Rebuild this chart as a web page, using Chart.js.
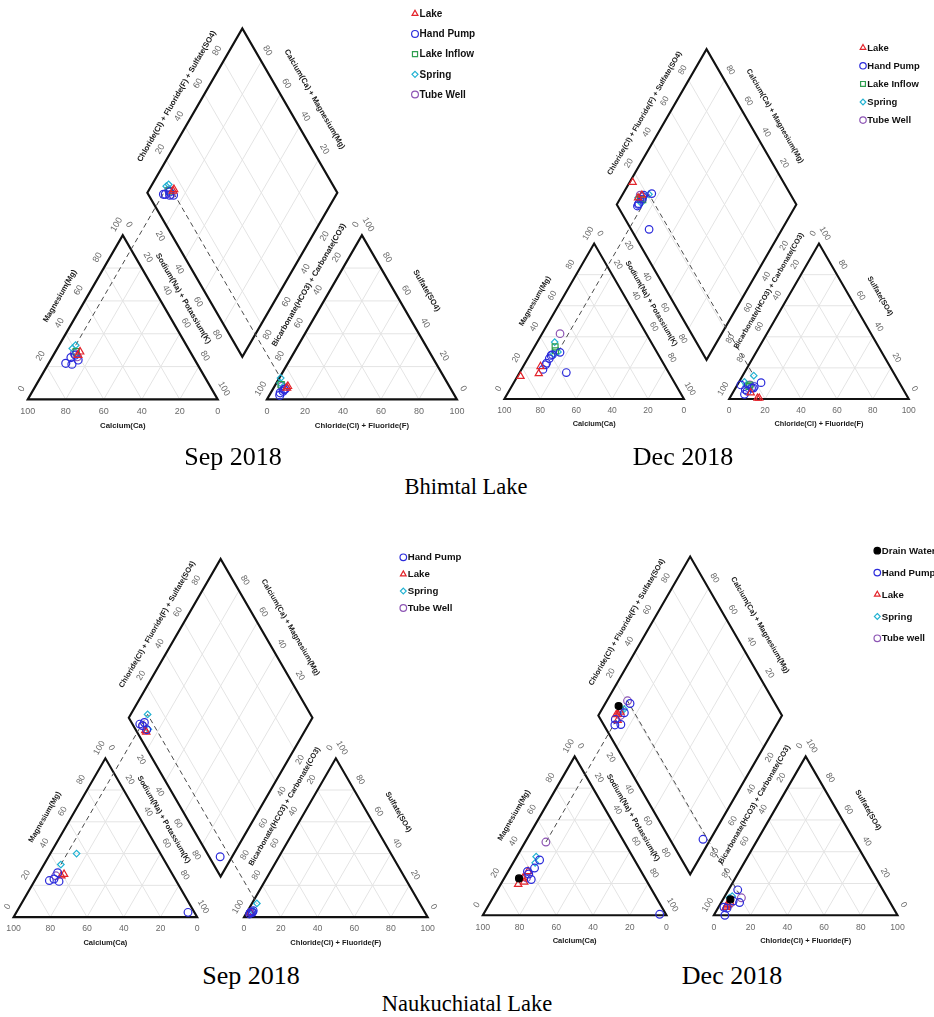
<!DOCTYPE html>
<html><head><meta charset="utf-8">
<script src="https://cdn.jsdelivr.net/npm/chart.js@4.4.1/dist/chart.umd.min.js"></script>
<style>
html,body{margin:0;padding:0;background:#fff;}
body{width:934px;height:1017px;position:relative;overflow:hidden;}
canvas{position:absolute;}
.cap{position:absolute;font-family:"Liberation Serif","Times New Roman",serif;font-size:26px;color:#000;white-space:nowrap;transform:translateX(-50%);line-height:1;}
.cap.lk{font-size:22.5px;}
</style></head><body>
<canvas id="c1"></canvas>
<canvas id="c2"></canvas>
<canvas id="c3"></canvas>
<canvas id="c4"></canvas>
<div class="cap" style="left:233px;top:444px">Sep 2018</div>
<div class="cap" style="left:683px;top:444px">Dec 2018</div>
<div class="cap lk" style="left:466px;top:476px">Bhimtal Lake</div>
<div class="cap" style="left:251px;top:963px">Sep 2018</div>
<div class="cap" style="left:732px;top:963px">Dec 2018</div>
<div class="cap lk" style="left:467px;top:993px">Naukuchiatal Lake</div>
<script>
// ===== DATA: each sample = [Ca, Mg, Na+K, HCO3+CO3, SO4, Cl+F] (% meq) =====
// Bhimtal Lake, Sep 2018
const bhSepLake       = [[58,29,13,85,8,7],[60,27,13,86,7,7]];
const bhSepHandPump   = [[69,22,9,92,2.5,5.5],[66,21.5,12.5,89,5,6],[61.5,24,14.5,87,6.5,6.5],[64.5,25.5,10,91,4,5],[61.5,27,11.5,88,6,6]];
const bhSepLakeInflow = [[60,29,11,88,9,3]];
const bhSepSpring     = [[58.3,33,8.7,86.3,13,0.7],[61,31,8,88,10,2]];
const bhSepTubeWell   = [[61.5,28,10.5,88,8,4],[61,26,13,88,6,6]];
// Bhimtal Lake, Dec 2018
const bhDecLake       = [[83.7,14.6,1.7,84,0.5,15.5],[72.7,16.3,11,83,0.5,16.5],[69.4,20.9,9.7,86,4,10]];
const bhDecHandPump   = [[57,17,26,90,3,7],[69,19,12,83,7,10],[65,23,12,82,8,10],[62,26,12,88,6,6],[59,28.5,12.5,84,7,9],[54,30,16,77,10.5,12.5],[60,28,12,89,9,2],[66,22,12,87.5,5,7.5]];
const bhDecLakeInflow = [[55,33.5,11.5,85,8,7],[56,31,13,84,9,7]];
const bhDecSpring     = [[55,30.3,14.7,78.8,15,6.2],[53.7,36.6,9.7,86,9,5],[58,29,13,86,11,3]];
const bhDecTubeWell   = [[48,42,10,84,9,7]];
// Naukuchiatal Lake, Sep 2018
const nkSepHandPump   = [[69,23,8,96,2,2],[66,24,10,95,3,2],[64,22.5,13.5,94,3,3],[62,28,10,93,4,3],[3.5,3,93.5,94,3,3]];
const nkSepLake       = [[59,27,14,95,2.5,2.5],[61,26,13,95,3,2]];
const nkSepSpring     = [[57.7,33.1,9.2,88.7,8.6,2.7],[45.7,40,14.3,93,4,3]];
const nkSepTubeWell   = [[64,26,10,95,3,2]];
// Naukuchiatal Lake, Dec 2018
const nkDecDrain      = [[68.7,23.2,8.1,86,10,4]];
const nkDecHandPump   = [[62.4,22.5,15.1,90.6,4.5,4.9],[57,29.7,13.3,85,9,6],[51.7,34.8,13.5,79,16,5],[61.9,27.6,10.5,92,5,3],[3.4,0.6,96,82,8,10],[62,26,12,94,0,6]];
const nkDecLake       = [[71,19.5,9.5,90,6,4],[66.3,23.5,10.2,89,7,4],[61.6,27.6,10.8,87,8,5],[67,21,12,91,5,4]];
const nkDecSpring     = [[52.5,36.9,10.6,86,11,3],[55,33,12,84,12,4]];
const nkDecTubeWell   = [[42.6,46.1,11.3,79.5,11,9.5],[64.5,23.5,12,88,7,5]];

const tickValues = [0,20,40,60,80,100];
const innerTicks = [20,40,60,80];

// ===== STYLE =====
const STY = {
  'Lake':        {shape:'triangle', color:'#e3242b', fill:false, r:4.4},
  'Hand Pump':   {shape:'circle',   color:'#2b2bdb', fill:false, r:4},
  'Lake Inflow': {shape:'rect',     color:'#2e9e4f', fill:false, r:4.4},
  'Spring':      {shape:'rectRot',  color:'#22b2d2', fill:false, r:3.4},
  'Tube Well':   {shape:'circle',   color:'#8d55b4', fill:false, r:4},
  'Tube well':   {shape:'circle',   color:'#8d55b4', fill:false, r:4},
  'Drain Water': {shape:'circle',   color:'#000000', fill:true,  r:3.6}
};
const SQ = Math.sqrt(3)/2;
const DEG = Math.PI/180;

const panels = [
  {id:'c1', left:0,   top:0,   w:480, h:445, ox:22.7,  oy:404,   L:194.5, g:25.9,
   legX:415, legY:13.7, legDy:20.2,
   series:[['Lake',bhSepLake],['Hand Pump',bhSepHandPump],['Lake Inflow',bhSepLakeInflow],['Spring',bhSepSpring],['Tube Well',bhSepTubeWell]],
   proj:bhSepSpring[0]},
  {id:'c2', left:470, top:0,   w:464, h:445, ox:499.7, oy:403.3, L:183.8, g:25.2,
   legX:863, legY:47.7, legDy:18.1,
   series:[['Lake',bhDecLake],['Hand Pump',bhDecHandPump],['Lake Inflow',bhDecLakeInflow],['Spring',bhDecSpring],['Tube Well',bhDecTubeWell]],
   proj:bhDecSpring[0]},
  {id:'c3', left:0,   top:500, w:470, h:450, ox:8.3,   oy:921.9, L:188,   g:25.5,
   legX:403.3, legY:557.3, legDy:16.9,
   series:[['Hand Pump',nkSepHandPump],['Lake',nkSepLake],['Spring',nkSepSpring],['Tube Well',nkSepTubeWell]],
   proj:nkSepSpring[0]},
  {id:'c4', left:464, top:500, w:470, h:450, ox:477.7, oy:920,   L:188,   g:25.8,
   legX:877.3, legY:550.7, legDy:21.9,
   series:[['Drain Water',nkDecDrain],['Hand Pump',nkDecHandPump],['Lake',nkDecLake],['Spring',nkDecSpring],['Tube well',nkDecTubeWell]],
   proj:nkDecTubeWell[0]}
];

function drawMarker(ctx, shape, x, y, r, color, fill){
  ctx.save();
  ctx.strokeStyle = color; ctx.fillStyle = color; ctx.lineWidth = 1.2;
  ctx.beginPath();
  if (shape==='circle') ctx.arc(x,y,r,0,Math.PI*2);
  else if (shape==='triangle'){ ctx.moveTo(x, y-r); ctx.lineTo(x+r*SQ, y+r/2); ctx.lineTo(x-r*SQ, y+r/2); ctx.closePath(); }
  else if (shape==='rect'){ const a=r*0.75; ctx.rect(x-a,y-a,2*a,2*a); }
  else if (shape==='rectRot'){ ctx.moveTo(x,y-r); ctx.lineTo(x+r,y); ctx.lineTo(x,y+r); ctx.lineTo(x-r,y); ctx.closePath(); }
  if (fill) ctx.fill();
  ctx.stroke();
  ctx.restore();
}

function buildPanel(cfg){
  const s = cfg.L/100, k = cfg.L/194.5, g = cfg.g;
  const cv = document.getElementById(cfg.id);
  cv.width = cfg.w; cv.height = cfg.h;
  cv.style.left = cfg.left+'px'; cv.style.top = cfg.top+'px';
  cv.style.width = cfg.w+'px'; cv.style.height = cfg.h+'px';
  const xmin = (cfg.left - cfg.ox)/s, xmax = xmin + cfg.w/s;
  const ymax = (cfg.oy - cfg.top)/s, ymin = ymax - cfg.h/s;

  const cat = (ca,mg,nk)=>{const t=ca+mg+nk; const m=mg/t*100, n=nk/t*100; return {x:n+m/2, y:m*SQ};};
  const an  = (hc,so,cl)=>{const t=hc+so+cl; const o=so/t*100, c=cl/t*100; return {x:100+g+c+o/2, y:o*SQ};};
  const Lv  = {x:50+g/2, y:(g+100)*SQ};
  const dia = (n,a)=>({x:Lv.x+(n+a)/2, y:Lv.y+(a-n)*SQ});
  const three = sm => {
    const ct = sm[0]+sm[1]+sm[2], at = sm[3]+sm[4]+sm[5];
    return [cat(sm[0],sm[1],sm[2]), an(sm[3],sm[4],sm[5]), dia(sm[2]/ct*100, (sm[4]+sm[5])/at*100)];
  };

  const datasets = [];
  const pr = three(cfg.proj);
  datasets.push({type:'line', label:'proj', data:[pr[0],pr[2],pr[1]], borderColor:'#4a4a4a', borderWidth:1,
                 borderDash:[5,3.5], pointRadius:0, fill:false, tension:0, order:10});
  cfg.series.forEach(([name, arr], i)=>{
    const st = STY[name];
    const pts = []; arr.forEach(sm => pts.push(...three(sm)));
    datasets.push({type:'scatter', label:name, data:pts, pointStyle:st.shape, pointRadius:st.r*k,
      pointBorderWidth:1.2, borderColor:st.color, pointBorderColor:st.color,
      pointBackgroundColor: st.fill ? st.color : 'rgba(0,0,0,0)', backgroundColor: st.fill ? st.color : 'rgba(0,0,0,0)', order:i});
  });

  const P = (chart,u)=>({x:chart.scales.x.getPixelForValue(u.x), y:chart.scales.y.getPixelForValue(u.y)});
  const catP = (ca,mg,nk)=>({x:nk+mg/2, y:mg*SQ});
  const anP  = (hc,so,cl)=>({x:100+g+cl+so/2, y:so*SQ});

  const framePlugin = {
    id:'frame'+cfg.id,
    beforeDatasetsDraw(chart){
      const ctx = chart.ctx;
      const line = (a,b)=>{const p=P(chart,a), q=P(chart,b); ctx.moveTo(p.x,p.y); ctx.lineTo(q.x,q.y);};
      ctx.save();
      ctx.strokeStyle = '#e4e4e4'; ctx.lineWidth = 1;
      ctx.beginPath();
      innerTicks.forEach(v=>{
        line(catP(v,0,100-v), catP(v,100-v,0));
        line(catP(0,v,100-v), catP(100-v,v,0));
        line(catP(100-v,0,v), catP(0,100-v,v));
        line(anP(v,0,100-v), anP(v,100-v,0));
        line(anP(0,v,100-v), anP(100-v,v,0));
        line(anP(100-v,0,v), anP(0,100-v,v));
        line(dia(v,0), dia(v,100));
        line(dia(0,v), dia(100,v));
      });
      ctx.stroke();
      ctx.strokeStyle = '#111'; ctx.lineWidth = 2.2*k; ctx.lineJoin = 'miter';
      const poly = pts => { ctx.beginPath(); pts.forEach((u,i)=>{const p=P(chart,u); i?ctx.lineTo(p.x,p.y):ctx.moveTo(p.x,p.y);}); ctx.closePath(); ctx.stroke(); };
      poly([catP(100,0,0), catP(0,0,100), catP(0,100,0)]);
      poly([anP(100,0,0), anP(0,0,100), anP(0,100,0)]);
      poly([dia(0,0), dia(0,100), dia(100,100), dia(100,0)]);
      ctx.restore();
    },
    afterDraw(chart){
      const ctx = chart.ctx;
      const text = (u, off, d, rot, txt)=>{
        const p = P(chart, {x:u.x+off[0]*d, y:u.y+off[1]*d});
        ctx.save(); ctx.translate(p.x,p.y); ctx.rotate(rot*DEG); ctx.fillText(txt,0,0); ctx.restore();
      };
      ctx.save();
      ctx.textAlign='center'; ctx.textBaseline='middle';
      ctx.fillStyle = '#6a6a6a';
      ctx.font = (9*k).toFixed(2)+'px "Liberation Sans", Arial, sans-serif';
      const D = 6.5;
      tickValues.forEach(v=>{
        text({x:100-v,y:0}, [0,-1], D, 0, String(v));
        text({x:v/2,y:v*SQ}, [-0.5,SQ], D, -60, String(v));
        text({x:50+v/2,y:(100-v)*SQ}, [0.5,SQ], D, 60, String(v));
        text({x:100+g+v,y:0}, [0,-1], D, 0, String(v));
        text({x:150+g-v/2,y:(100-v)*SQ}, [-0.5,SQ], D, -60, String(v));
        text({x:200+g-v/2,y:v*SQ}, [0.5,SQ], D, 60, String(v));
      });
      innerTicks.forEach(v=>{
        text(dia(0,v), [-0.5,SQ], D, -60, String(v));
        text(dia(100-v,100), [0.5,SQ], D, 60, String(v));
        text(dia(v,0), [-0.5,-SQ], D, 60, String(v));
        text(dia(100,100-v), [0.5,-SQ], D, -60, String(v));
      });
      ctx.fillStyle = '#1a1a1a';
      ctx.font = 'bold '+(7.8*k).toFixed(2)+'px "Liberation Sans", Arial, sans-serif';
      const ttl = (u,o,rot,t)=>text({x:u.x+o[0], y:u.y+o[1]}, [0,0], 0, rot, t);
      ttl({x:50,y:0}, [0,-13.9], 0, 'Calcium(Ca)');
      ttl({x:25,y:50*SQ}, [-8,11.2], -60, 'Magnesium(Mg)');
      ttl({x:75,y:50*SQ}, [6.8,9.9], 60, 'Sodium(Na) + Potassium(K)');
      ttl({x:150+g,y:0}, [0,-13.9], 0, 'Chloride(Cl) + Fluoride(F)');
      ttl({x:125+g,y:50*SQ}, [-2.9,17], -60, 'Bicarbonate(HCO3) + Carbonate(CO3)');
      ttl({x:175+g,y:50*SQ}, [9,14], 60, 'Sulfate(SO4)');
      ttl(dia(0,50), [-9.5,7.5], -60, 'Chloride(Cl) + Fluoride(F) + Sulfate(SO4)');
      ttl(dia(50,100), [13,6], 60, 'Calcium(Ca) + Magnesium(Mg)');
      // legend
      ctx.textAlign='left';
      ctx.font = 'bold '+(10*k).toFixed(2)+'px "Liberation Sans", Arial, sans-serif';
      cfg.series.forEach(([name],i)=>{
        const st = STY[name];
        const x = cfg.legX - cfg.left, y = cfg.legY - cfg.top + i*cfg.legDy;
        drawMarker(ctx, st.shape, x, y, (st.shape==='rectRot'?3:3.4)*k, st.color, st.fill);
        ctx.fillStyle = '#111';
        ctx.fillText(name, x + 4.6*k, y+0.5);
      });
      ctx.restore();
    }
  };

  return new Chart(cv, {
    type:'scatter',
    data:{datasets},
    options:{
      responsive:false, animation:false, events:[], devicePixelRatio:1,
      layout:{padding:0},
      plugins:{legend:{display:false}, tooltip:{enabled:false}},
      scales:{
        x:{type:'linear', min:xmin, max:xmax, display:false},
        y:{type:'linear', min:ymin, max:ymax, display:false}
      }
    },
    plugins:[framePlugin]
  });
}
panels.forEach(buildPanel);
</script>
</body></html>
